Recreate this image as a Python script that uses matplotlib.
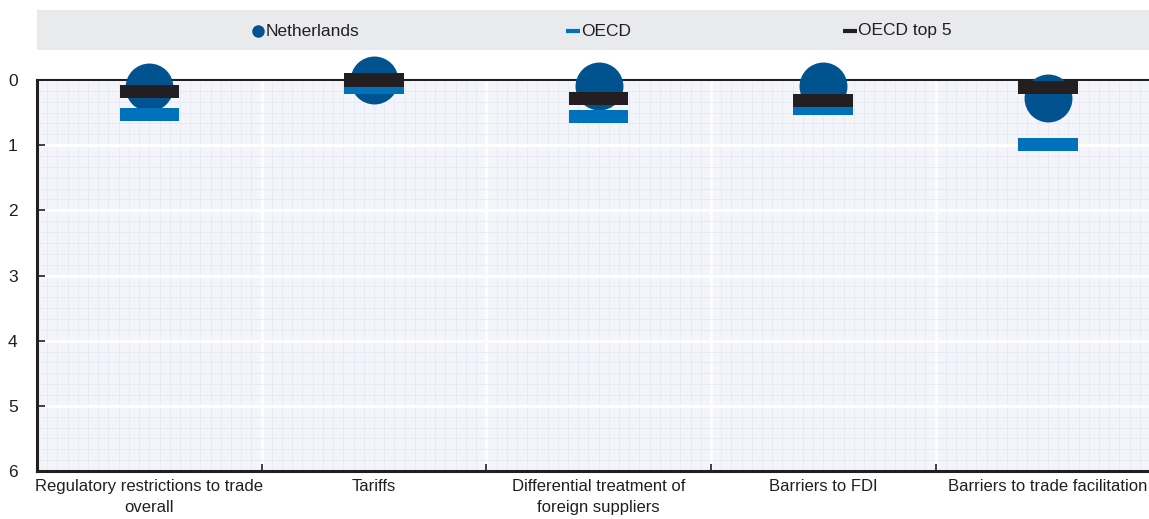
import numpy as np
import matplotlib.pyplot as plt
from matplotlib.patches import Rectangle
from matplotlib.lines import Line2D
from matplotlib.ticker import MultipleLocator, FixedLocator

plt.rcParams['font.family'] = ['Liberation Sans', 'DejaVu Sans']

# Categories and values (lower = less restrictive)
categories = ['Regulatory restrictions to trade\noverall', 'Tariffs',
              'Differential treatment of\nforeign suppliers', 'Barriers to FDI',
              'Barriers to trade facilitation']
netherlands = [0.10, 0.00, 0.09, 0.09, 0.28]
oecd = [0.53, 0.12, 0.56, 0.44, 0.99]
oecd_top5 = [0.17, 0.00, 0.28, 0.31, 0.11]

c_nl = '#00538f'
c_oecd = '#0072bc'
c_top5 = '#231f20'

W, H = 1149, 519
fig = plt.figure(figsize=(W / 100, H / 100), dpi=100)
ax = fig.add_axes([37 / W, (519 - 471) / H, (1149 - 37) / W, (471 - 80) / H])

x = np.arange(len(categories))

ax.set_facecolor('#f3f5fa')
ax.set_xlim(-0.5, 4.45)
ax.set_ylim(6, 0)

# grids
ax.xaxis.set_major_locator(FixedLocator(x[:-1] + 0.5))
ax.xaxis.set_minor_locator(MultipleLocator(1 / 22))
ax.yaxis.set_major_locator(MultipleLocator(1))
ax.yaxis.set_minor_locator(MultipleLocator(1 / 6))
ax.grid(which='minor', color='#e6eaf2', linewidth=0.6)
ax.grid(which='major', color='white', linewidth=2)
ax.set_axisbelow(True)
ax.set_xticklabels([])
ax.tick_params(axis='x', which='minor', length=0)
ax.tick_params(axis='x', which='major', direction='in', length=5, width=1.2, color='#231f20')
ax.tick_params(axis='y', which='major', direction='in', length=6, width=1.2, color='#231f20',
               labelsize=12.5, labelcolor='#231f20', pad=14)
ax.tick_params(axis='y', which='minor', length=0)

# category labels at centers
for xi, lab in zip(x, categories):
    ax.text(xi, 6.13, lab, ha='center', va='top', fontsize=12, color='#231f20',
            linespacing=1.45)

for s in ['top', 'bottom', 'left']:
    ax.spines[s].set_color('#231f20')
ax.spines['top'].set_linewidth(1.5)
ax.spines['bottom'].set_linewidth(2.2)
ax.spines['left'].set_linewidth(2.2)
ax.spines['right'].set_visible(False)

# marks
ax.scatter(x, netherlands, s=34.5 ** 2, color=c_nl, zorder=3, clip_on=False, linewidths=0)
bw = 0.265
bh = 0.2
ax.bar(x, bh, bottom=np.array(oecd) - bh / 2, width=bw, color=c_oecd, zorder=4, clip_on=False)
ax.bar(x, bh, bottom=np.array(oecd_top5) - bh / 2, width=bw, color=c_top5, zorder=5, clip_on=False)

# legend box
fig.patches.append(Rectangle((37 / W, (519 - 50) / H), (1149 - 37) / W, 40 / H,
                             transform=fig.transFigure, facecolor='#e9eaec', edgecolor='none'))
items = [('Netherlands', 258, 'o', c_nl, 9), ('OECD', 573, '_', c_oecd, 10),
         ('OECD top 5', 850, '_', c_top5, 10)]
ly = (519 - 31) / H
for lab, px, mk, col, ms in items:
    fig.add_artist(Line2D([px / W], [ly], marker=mk, color=col, markersize=ms,
                          markeredgewidth=3 if mk == '_' else 0, linestyle='none',
                          transform=fig.transFigure))
    fig.text((px + 8) / W, ly, lab, ha='left', va='center', fontsize=12.5, color='#231f20')

fig.savefig('out.png', dpi=100)
